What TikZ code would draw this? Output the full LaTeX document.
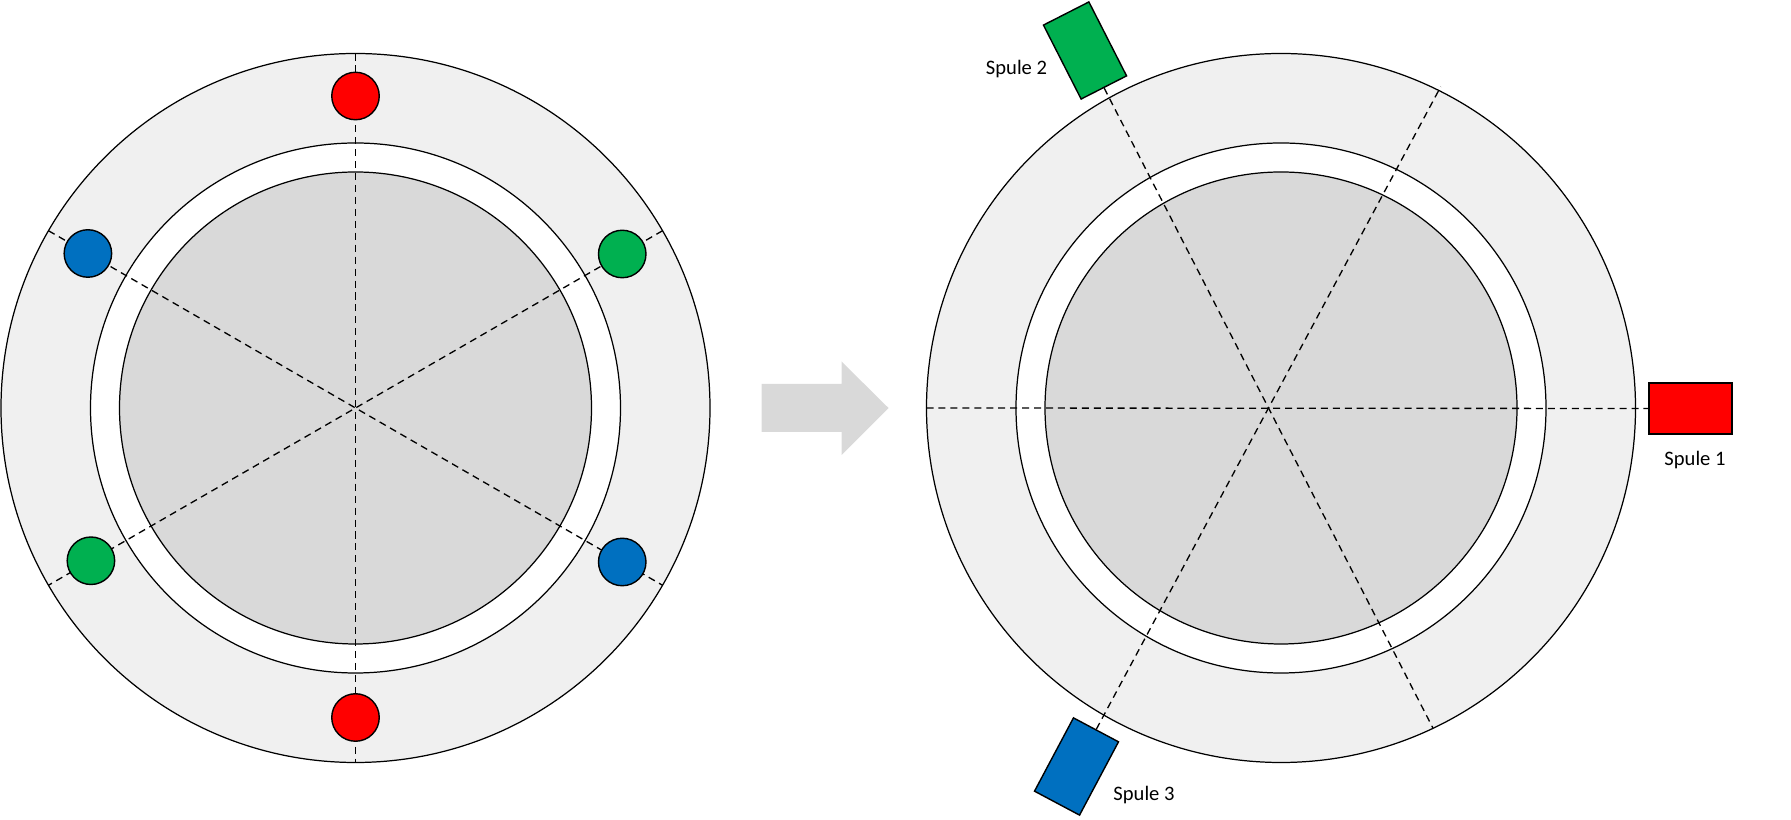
\documentclass[tikz,border=0pt]{standalone}
\usepackage{fontspec}
\setmainfont{Carlito}
\usetikzlibrary{calc}
\definecolor{ringgray}{HTML}{F0F0F0}
\definecolor{diskgray}{HTML}{D9D9D9}
\definecolor{spred}{HTML}{FF0000}
\definecolor{spgreen}{HTML}{00B050}
\definecolor{spblue}{HTML}{0070C0}
\begin{document}
\begin{tikzpicture}[line width=.7pt,
    ball/.style={circle,draw,fill=#1,minimum size=.95cm,inner sep=0pt,line width=.8pt},
    spule/.style={rectangle,draw,fill=#1,minimum width=1.66cm,minimum height=1.02cm,inner sep=0pt,line width=.8pt},
    lbl/.style={font=\fontsize{11.7}{14}\selectfont,inner sep=0pt},
    cut/.style={dashed,dash pattern=on 4pt off 2.8pt,line width=.75pt}]
  \useasboundingbox (0,0) rectangle (35.82,16.4);
  % left ring, before
  \coordinate (L) at (7.11,8.24);
  \draw[fill=ringgray] (L) circle (7.09);
  \draw[fill=white] (L) circle (5.3);
  \draw[fill=diskgray] (L) circle (4.72);
  \foreach \a in {90,30,150}
    \draw[cut] ([shift={(\a:7.09)}]L) -- ([shift={(\a+180:7.09)}]L);
  \foreach \a/\r/\c in {90/6.24/spred,270/6.19/spred,30/6.16/spgreen,210/6.11/spgreen,150/6.18/spblue,330/6.16/spblue}
    \node[ball=\c] (b\a) at ([shift={(\a:\r)}]L) {};
  % arrow
  \fill[diskgray] (15.23,7.76) -- (16.83,7.76) -- (16.83,7.30) -- (17.77,8.24)
    -- (16.83,9.17) -- (16.83,8.72) -- (15.23,8.72) -- cycle;
  % right ring, after
  \coordinate (R) at (25.62,8.24);
  \coordinate (X) at (25.37,8.24);
  \draw[fill=ringgray] (R) circle (7.09);
  \draw[fill=white] (R) circle (5.3);
  \draw[fill=diskgray] (R) circle (4.72);
  \node[spule=spred] (s1) at (33.81,8.23) {};
  \node[spule=spgreen,rotate=-63] (s2) at (21.70,15.39) {};
  \node[spule=spblue,rotate=62] (s3) at (21.53,1.07) {};
  \draw[cut] ([xshift=-7.09cm]R) -- (s1.west);
  \draw[cut] (s2.east) -- ($(X)!-1!(s2.east)$);
  \draw[cut] (s3.east) -- ($(X)!-1!(s3.east)$);
  \node[lbl] (t1) at (33.90,7.20) {Spule 1};
  \node[lbl] (t2) at (20.33,15.01) {Spule 2};
  \node[lbl] (t3) at (22.88,0.50) {Spule 3};
\end{tikzpicture}
\end{document}
